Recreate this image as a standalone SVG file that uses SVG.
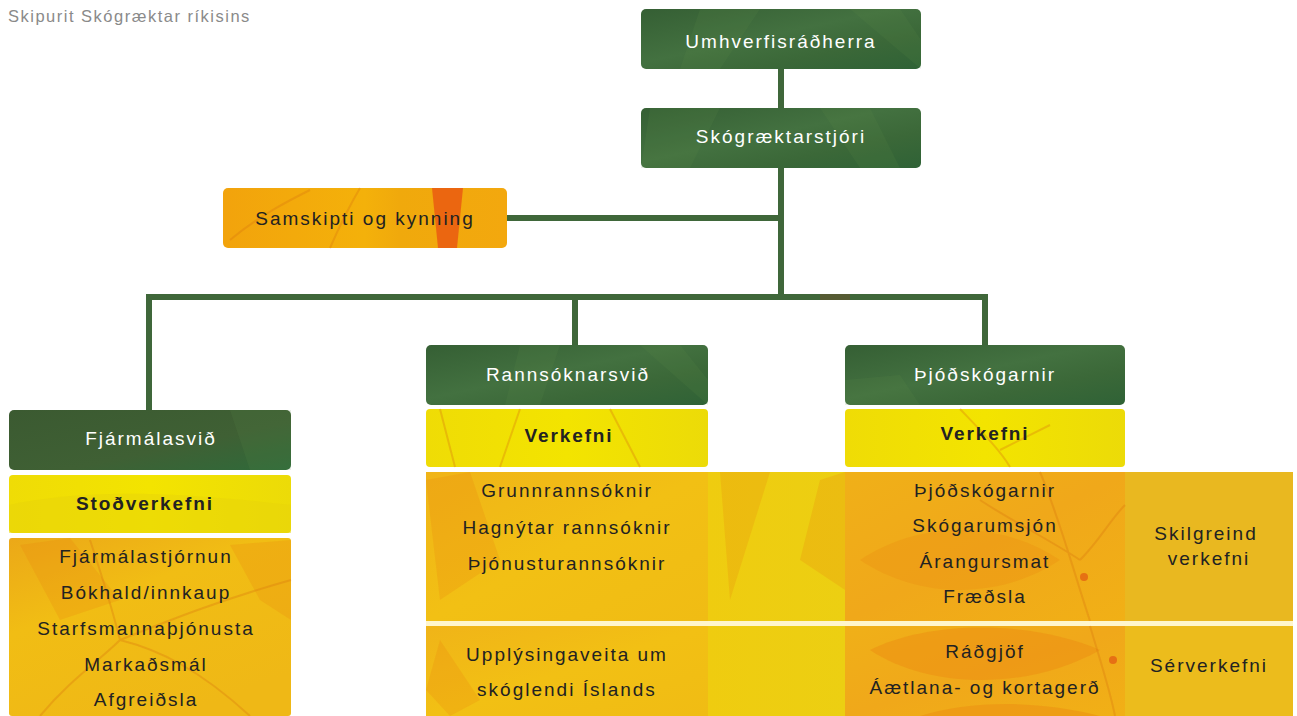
<svg xmlns="http://www.w3.org/2000/svg" width="1297" height="716" viewBox="0 0 1297 716">
<defs>
<linearGradient id="gGreen" x1="0" y1="0" x2="1" y2="1">
<stop offset="0" stop-color="#355f34"/>
<stop offset="0.45" stop-color="#437140"/>
<stop offset="0.7" stop-color="#3b6838"/>
<stop offset="1" stop-color="#2f6236"/>
</linearGradient>
<linearGradient id="gGreenDark" x1="0" y1="0" x2="1" y2="1">
<stop offset="0" stop-color="#3b5a31"/>
<stop offset="0.6" stop-color="#3f6034"/>
<stop offset="1" stop-color="#2f6a3a"/>
</linearGradient>
<linearGradient id="gYellow" x1="0" y1="0" x2="1" y2="0">
<stop offset="0" stop-color="#efdc06"/>
<stop offset="0.5" stop-color="#f3e400"/>
<stop offset="1" stop-color="#ecdb08"/>
</linearGradient>
<linearGradient id="gOrangeBox" x1="0" y1="0" x2="1" y2="0">
<stop offset="0" stop-color="#f2a30c"/>
<stop offset="0.5" stop-color="#f4b10a"/>
<stop offset="0.62" stop-color="#f0a90c"/>
<stop offset="1" stop-color="#f3a80e"/>
</linearGradient>
<linearGradient id="gFin" x1="0" y1="0" x2="0.6" y2="1">
<stop offset="0" stop-color="#eba818"/>
<stop offset="0.4" stop-color="#f1bd14"/>
<stop offset="1" stop-color="#efb816"/>
</linearGradient>
<linearGradient id="gRann" x1="0" y1="0" x2="1" y2="1">
<stop offset="0" stop-color="#f0b418"/>
<stop offset="0.5" stop-color="#f2c014"/>
<stop offset="1" stop-color="#f0bc14"/>
</linearGradient>
<linearGradient id="gMid" x1="0" y1="0" x2="1" y2="0">
<stop offset="0" stop-color="#efcc10"/>
<stop offset="1" stop-color="#eccf12"/>
</linearGradient>
<linearGradient id="gThjod" x1="0" y1="0" x2="1" y2="1">
<stop offset="0" stop-color="#f0b018"/>
<stop offset="0.5" stop-color="#f0a81a"/>
<stop offset="1" stop-color="#f1b016"/>
</linearGradient>
<style>
.conn{stroke:#3f673a;stroke-width:6;fill:none;stroke-linecap:square}
.hw{font-family:"Liberation Sans",Arial,sans-serif;font-size:19px;letter-spacing:2px;fill:#ffffff;text-anchor:middle}
.hb{font-family:"Liberation Sans",Arial,sans-serif;font-size:19px;letter-spacing:1.9px;font-weight:bold;fill:#222222;text-anchor:middle}
.it{font-family:"Liberation Sans",Arial,sans-serif;font-size:19px;letter-spacing:2px;fill:#222222;text-anchor:middle}
.title{font-family:"Liberation Sans",Arial,sans-serif;font-size:16.5px;letter-spacing:1.5px;fill:#8a8a8a}
.vein{fill:none;stroke:#d9780e;stroke-opacity:0.35;stroke-width:2}
.leaf{fill:#e8800e;fill-opacity:0.22}
.streak{fill:#5e8c4a;fill-opacity:0.15}
.sep{fill:#fff6cc}
</style>
</defs>
<rect width="1297" height="716" fill="#ffffff"/>
<text class="title" x="8" y="22">Skipurit Skógræktar ríkisins</text>

<g id="connectors">
<line class="conn" x1="781" y1="69" x2="781" y2="108"/>
<line class="conn" x1="781" y1="168" x2="781" y2="297"/>
<line class="conn" x1="507" y1="218" x2="781" y2="218"/>
<polyline class="conn" points="149,410 149,297 985,297 985,345"/>
<line class="conn" x1="575" y1="297" x2="575" y2="345"/>
<path d="M820 297 L850 297" stroke="#7a4a2a" stroke-opacity="0.4" stroke-width="6"/>
</g>

<g id="umhverfisradherra">
<rect x="641" y="9" width="280" height="60" rx="5" fill="url(#gGreen)"/>
<path class="streak" d="M700 9 L760 9 L720 69 L680 69 Z"/>
<path class="streak" d="M850 9 L900 9 L921 40 L921 69 Z"/>
<text class="hw" x="781" y="48">Umhverfisráðherra</text>
</g>

<g id="skograektarstjori">
<rect x="641" y="108" width="280" height="60" rx="5" fill="url(#gGreen)"/>
<path class="streak" d="M650 108 L720 108 L690 168 L641 168 Z"/>
<path class="streak" d="M820 108 L870 108 L900 168 L860 168 Z"/>
<text class="hw" x="781" y="143">Skógræktarstjóri</text>
</g>

<g id="samskipti">
<rect x="223" y="188" width="284" height="60" rx="5" fill="url(#gOrangeBox)"/>
<path d="M432 188 L463 188 L457 248 L438 248 Z" fill="#ea5a12" fill-opacity="0.85"/>
<path class="vein" d="M230 240 C260 215 290 200 310 190 M330 248 C340 225 350 205 360 188"/>
<text class="it" x="365" y="225">Samskipti og kynning</text>
</g>

<g id="fjarmalasvid">
<rect x="9" y="410" width="282" height="60" rx="5" fill="url(#gGreenDark)"/>
<path class="streak" d="M230 410 L291 410 L291 470 L250 470 Z"/>
<text class="hw" x="151" y="445">Fjármálasvið</text>
</g>
<g id="stodverkefni">
<rect x="9" y="475" width="282" height="58" rx="4" fill="url(#gYellow)"/>
<path d="M9 505 C80 490 160 490 291 505 L291 533 L9 533 Z" fill="#e8d40a" fill-opacity="0.5"/>
<text class="hb" x="145" y="510">Stoðverkefni</text>
</g>
<g id="fjarmala-verkefni">
<rect x="9" y="538" width="282" height="178" rx="3" fill="url(#gFin)"/>
<path class="leaf" d="M20 545 L70 538 L120 600 L60 620 Z"/>
<path class="leaf" d="M230 545 L291 540 L291 620 L260 600 Z"/>
<path class="vein" d="M120 640 C100 660 70 680 40 716 M120 640 C160 650 200 670 250 716 M120 640 C110 600 100 570 90 540 M120 640 C170 620 220 600 291 580"/>
<text class="it" x="146" y="563">Fjármálastjórnun</text>
<text class="it" x="146" y="599">Bókhald/innkaup</text>
<text class="it" x="146" y="635">Starfsmannaþjónusta</text>
<text class="it" x="146" y="671">Markaðsmál</text>
<text class="it" x="146" y="706">Afgreiðsla</text>
</g>

<g id="rannsoknarsvid">
<rect x="426" y="345" width="282" height="60" rx="5" fill="url(#gGreen)"/>
<path class="streak" d="M520 345 L560 345 L540 405 L505 405 Z"/>
<path class="streak" d="M640 345 L680 345 L708 380 L708 405 Z"/>
<text class="hw" x="568" y="381">Rannsóknarsvið</text>
</g>
<g id="rannsokn-verkefni">
<rect x="426" y="409" width="282" height="58" rx="4" fill="url(#gYellow)"/>
<path class="vein" d="M440 409 L455 467 M520 409 L500 467 M610 409 L640 467" stroke="#d8c20a"/>
<text class="hb" x="569" y="442">Verkefni</text>
</g>

<g id="thjodskogarnir">
<rect x="845" y="345" width="280" height="60" rx="5" fill="url(#gGreen)"/>
<path class="streak" d="M845 380 L900 375 L920 405 L845 405 Z" fill="#2b4a2a"/>
<text class="hw" x="985" y="381">Þjóðskógarnir</text>
</g>
<g id="thjod-verkefni">
<rect x="845" y="409" width="280" height="58" rx="4" fill="url(#gYellow)"/>
<path class="vein" d="M960 409 C980 430 1000 450 1010 467 M1050 425 L1000 450" stroke="#d8b20a"/>
<text class="hb" x="985" y="440">Verkefni</text>
</g>

<g id="skilgreind-verkefni">
<rect x="426" y="472" width="282" height="149" fill="url(#gRann)"/>
<rect x="708" y="472" width="137" height="149" fill="url(#gMid)"/>
<rect x="845" y="472" width="280" height="149" fill="url(#gThjod)"/>
<rect x="1125" y="472" width="168" height="149" fill="#e9b820"/>
<path class="leaf" d="M426 480 L470 472 L500 560 L440 600 Z"/>
<path class="leaf" d="M720 472 L770 472 L730 600 Z"/>
<path class="leaf" d="M820 480 L845 472 L845 590 L800 560 Z"/>
<path class="leaf" d="M860 560 C920 520 1000 520 1060 560 C1000 600 920 600 860 560 Z"/>
<path class="vein" d="M1040 472 C1060 520 1070 560 1090 621 M1080 560 C1050 540 1010 520 980 500 M1080 560 C1100 540 1110 520 1125 505" stroke="#d8550e" stroke-opacity="0.5"/>
<circle cx="1084" cy="577" r="4" fill="#e04a10" fill-opacity="0.6"/>
<text class="it" x="567" y="497">Grunnrannsóknir</text>
<text class="it" x="567" y="534">Hagnýtar rannsóknir</text>
<text class="it" x="567" y="570">Þjónusturannsóknir</text>
<text class="it" x="985" y="497">Þjóðskógarnir</text>
<text class="it" x="985" y="532">Skógarumsjón</text>
<text class="it" x="985" y="568">Árangursmat</text>
<text class="it" x="985" y="603">Fræðsla</text>
<text class="it" x="1206" y="540">Skilgreind</text>
<text class="it" x="1209" y="565">verkefni</text>
</g>

<rect class="sep" x="426" y="621" width="867" height="5"/>

<g id="serverkefni">
<rect x="426" y="626" width="282" height="90" fill="url(#gRann)"/>
<rect x="708" y="626" width="137" height="90" fill="url(#gMid)"/>
<rect x="845" y="626" width="280" height="90" fill="url(#gThjod)"/>
<rect x="1125" y="626" width="168" height="90" fill="#ecbc1c"/>
<path class="leaf" d="M440 640 L480 700 L450 716 L426 690 Z"/>
<path d="M870 650 C930 620 1030 620 1100 650 C1030 690 930 690 870 650 Z" fill="#ec8a12" fill-opacity="0.45"/>
<path d="M920 716 C970 700 1040 700 1100 716 Z" fill="#ec8a12" fill-opacity="0.45"/>
<path class="vein" d="M1090 626 C1100 660 1110 690 1115 716" stroke="#d8550e" stroke-opacity="0.5"/>
<circle cx="1113" cy="660" r="4" fill="#e04a10" fill-opacity="0.6"/>
<text class="it" x="567" y="661">Upplýsingaveita um</text>
<text class="it" x="567" y="696">skóglendi Íslands</text>
<text class="it" x="985" y="658">Ráðgjöf</text>
<text class="it" x="985" y="694">Áætlana- og kortagerð</text>
<text class="it" x="1209" y="672">Sérverkefni</text>
</g>
</svg>
